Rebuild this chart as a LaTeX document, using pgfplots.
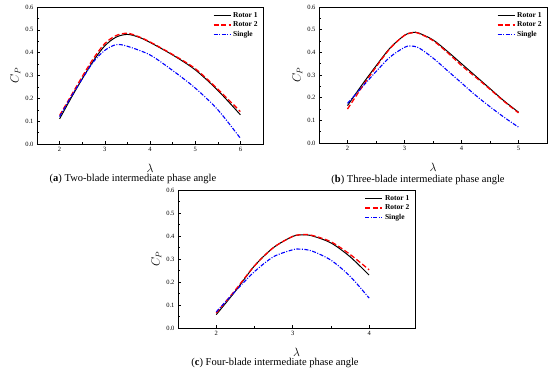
\documentclass[border=0pt]{standalone}
\usepackage{pgfplots}
\pgfplotsset{compat=1.18}
\usepackage{fontspec}
\setmainfont{Liberation Serif}
\tikzset{
  r1/.style={black, line width=1pt},
  r2/.style={red, line width=1.3pt, dash pattern=on 5pt off 2.5pt},
  sg/.style={blue, line width=1.1pt, dash pattern=on 4pt off 1.5pt on 1pt off 1.5pt},
}
\pgfplotsset{
  cpstyle/.style={
    scale only axis,
    xmin=1.5, ymin=0, ymax=0.6,
    ytick={0,0.1,...,0.6},
    minor x tick num=1, minor y tick num=1,
    tick pos=left,
    tick align=inside,
    major tick length=3pt, minor tick length=1.8pt,
    axis line style={line width=0.7pt},
    every tick/.style={line width=0.5pt, black},
    tick label style={font=\fontsize{6.5}{7}\selectfont},
    /pgf/number format/assume math mode=true,
    yticklabel style={/pgf/number format/.cd, fixed, fixed zerofill, precision=1},
    xlabel={\fontsize{12}{12}\selectfont$\lambda$},
    ylabel={\fontsize{12}{12}\selectfont$C_P$},
    xlabel style={yshift=-5pt}, ylabel style={yshift=-2pt},
    legend style={at={(0.99,0.985)}, anchor=north east, draw=none, fill=none,
      font=\bfseries\fontsize{7.5}{8}\selectfont, row sep=-1pt,
      inner sep=1pt},
    legend cell align=left,
    legend image code/.code={\draw[##1] (0pt,0pt) -- (17pt,0pt);},
  },
}
\begin{document}
\begin{tikzpicture}
\useasboundingbox (0pt,0pt) rectangle (550pt,373pt);
% (a)
\begin{axis}[cpstyle, at={(37pt,229pt)}, anchor=south west, width=226pt, height=137pt,
  xmax=6.5, xtick={2,3,4,5,6}]
\addplot[r1, smooth] coordinates {(2,0.11) (2.25,0.20) (2.5,0.285) (2.75,0.365) (3,0.43) (3.25,0.468) (3.5,0.48) (3.75,0.468) (4,0.445) (4.5,0.39) (5,0.325) (5.5,0.235) (6,0.128)};
\addlegendentry{Rotor 1}
\addplot[r2, smooth] coordinates {(2,0.125) (2.25,0.21) (2.5,0.295) (2.75,0.375) (3,0.44) (3.25,0.475) (3.5,0.485) (3.75,0.47) (4,0.447) (4.5,0.392) (5,0.33) (5.5,0.24) (6,0.142)};
\addlegendentry{Rotor 2}
\addplot[sg, smooth] coordinates {(2,0.12) (2.25,0.205) (2.5,0.285) (2.75,0.36) (3,0.41) (3.25,0.435) (3.5,0.428) (4,0.39) (4.5,0.322) (5,0.245) (5.5,0.15) (6,0.025)};
\addlegendentry{Single}
\end{axis}
% (b)
\begin{axis}[cpstyle, at={(319pt,230pt)}, anchor=south west, width=228pt, height=136pt,
  xmax=5.5, xtick={2,3,4,5}]
\addplot[r1, smooth] coordinates {(2,0.165) (2.25,0.255) (2.5,0.34) (2.75,0.42) (3,0.475) (3.15,0.488) (3.25,0.485) (3.5,0.455) (3.75,0.405) (4,0.35) (4.25,0.295) (4.5,0.24) (4.75,0.185) (5,0.136)};
\addlegendentry{Rotor 1}
\addplot[r2, smooth] coordinates {(2,0.15) (2.25,0.245) (2.5,0.335) (2.75,0.418) (3,0.475) (3.15,0.487) (3.25,0.484) (3.5,0.452) (3.75,0.4) (4,0.342) (4.25,0.29) (4.5,0.237) (4.75,0.183) (5,0.133)};
\addlegendentry{Rotor 2}
\addplot[sg, smooth] coordinates {(2,0.175) (2.25,0.245) (2.5,0.315) (2.75,0.38) (3,0.422) (3.1,0.428) (3.25,0.42) (3.5,0.375) (3.75,0.32) (4,0.265) (4.25,0.21) (4.5,0.16) (4.75,0.113) (5,0.07)};
\addlegendentry{Single}
\end{axis}
% (c)
\begin{axis}[cpstyle, at={(178pt,45pt)}, anchor=south west, width=237pt, height=138pt,
  xmax=4.6, xtick={2,3,4}]
\addplot[r1, smooth] coordinates {(2,0.058) (2.25,0.16) (2.5,0.27) (2.75,0.35) (3,0.398) (3.125,0.405) (3.25,0.401) (3.5,0.37) (3.75,0.31) (4,0.23)};
\addlegendentry{Rotor 1}
\addplot[r2, smooth] coordinates {(2,0.065) (2.25,0.165) (2.5,0.27) (2.75,0.35) (3,0.398) (3.125,0.406) (3.25,0.403) (3.5,0.375) (3.75,0.32) (4,0.253)};
\addlegendentry{Rotor 2}
\addplot[sg, smooth] coordinates {(2,0.07) (2.25,0.16) (2.5,0.245) (2.75,0.31) (3,0.34) (3.1,0.343) (3.25,0.335) (3.5,0.295) (3.75,0.225) (4,0.13)};
\addlegendentry{Single}
\end{axis}
\node[font=\fontsize{10.5}{11}\selectfont] at (133pt,194pt) {(\textbf{a}) Two-blade intermediate phase angle};
\node[font=\fontsize{10.5}{11}\selectfont] at (418pt,193pt) {(\textbf{b}) Three-blade intermediate phase angle};
\node[font=\fontsize{10.5}{11}\selectfont] at (275pt,10pt) {(\textbf{c}) Four-blade intermediate phase angle};
\end{tikzpicture}
\end{document}
